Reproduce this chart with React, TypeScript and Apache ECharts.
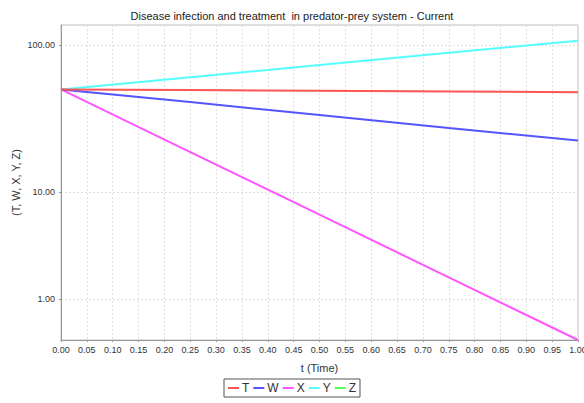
import React, { useEffect, useRef } from "react";
import * as echarts from "echarts";

const chartTitle = "Disease infection and treatment  in predator-prey system - Current";
const times = [0, 0.25, 0.5, 0.75, 1];
const seriesNames = ["T", "W", "X", "Y", "Z"];
const valuesT = [50, 49.5, 48.9, 48.4, 47.9];
const valuesW = [50, 41.0, 33.5, 27.4, 22.5];
const valuesX = [50, 18.8, 7.07, 2.66, 1.0];
const valuesY = [50, 60.4, 73.1, 88.5, 107];
const valuesZ = [50, 49.5, 48.9, 48.4, 47.9];
const colors = ["#ff5555", "#5555ff", "#ff55ff", "#55ffff", "#55ff55"];
const yTickValues = [1, 10, 100];

// JFreeChart places small log ticks at an "adjusted" value
const tickPos = (v: number) => (v < 10 ? v + (10 - v) / 10 : v);

const FONT = "'Liberation Sans', Arial, sans-serif";

export default function App() {
  const ref = useRef<HTMLDivElement>(null);
  useEffect(() => {
    document.body.style.margin = "0";
    if (!ref.current) return;
    const chart = echarts.init(ref.current, undefined, { renderer: "svg" });
    const all = [valuesT, valuesW, valuesX, valuesY, valuesZ];
    const series = seriesNames
      .map((name, i) => ({
        name,
        type: "line",
        showSymbol: false,
        symbol: "none",
        data: times.map((t, j) => [t, all[i][j]]),
        lineStyle: { color: colors[i], width: name === "Z" ? 1 : 2 },
        itemStyle: { color: colors[i] },
        z: 10 - i,
      }))
      .reverse();
    const ySplit = yTickValues.map(tickPos);
    chart.setOption({
      animation: false,
      backgroundColor: "#ffffff",
      textStyle: { fontFamily: FONT },
      title: {
        text: chartTitle,
        left: "center",
        top: 5,
        textStyle: { fontSize: 11, fontWeight: "normal", color: "#222", fontFamily: FONT },
      },
      grid: {
        left: 61,
        right: 6,
        top: 25,
        bottom: 63,
        show: true,
        borderColor: "#c0c0c0",
        borderWidth: 1,
        outerBoundsMode: "none",
        containLabel: false,
      },
      legend: {
        data: seriesNames,
        left: "center",
        top: 379,
        orient: "horizontal",
        borderColor: "#555",
        borderWidth: 1,
        padding: [3, 4, 3, 4],
        itemGap: 4,
        itemWidth: 11,
        itemHeight: 2,
        icon: "rect",
        textStyle: { fontSize: 12, color: "#333", fontFamily: FONT, padding: [0, 0, 0, -2] },
      },
      xAxis: {
        type: "value",
        min: 0,
        max: 1,
        interval: 0.05,
        name: "t (Time)",
        nameLocation: "middle",
        nameGap: 22,
        nameMoveOverlap: false,
        nameTextStyle: { fontSize: 11, color: "#333", fontFamily: FONT },
        axisLine: { lineStyle: { color: "#999" } },
        axisTick: { show: true, length: 2, lineStyle: { color: "#999" } },
        axisLabel: {
          fontSize: 9,
          color: "#333",
          margin: 5,
          fontFamily: FONT,
          formatter: (v: number) => v.toFixed(2),
        },
        splitLine: { show: true, lineStyle: { color: "#e0e0e0", type: [2, 2] } },
      },
      yAxis: {
        type: "log",
        logBase: 10,
        min: 1,
        max: 136.6,
        name: "(T, W, X, Y, Z)",
        nameLocation: "middle",
        nameGap: 40,
        nameMoveOverlap: false,
        nameTextStyle: { fontSize: 11, color: "#333", fontFamily: FONT },
        axisLine: { show: true, lineStyle: { color: "#999" } },
        axisTick: { show: true, length: 2, customValues: ySplit, lineStyle: { color: "#999" } },
        axisLabel: {
          fontSize: 9,
          color: "#333",
          margin: 6,
          fontFamily: FONT,
          customValues: ySplit,
          formatter: (v: number) => {
            const t = yTickValues.find((tv) => Math.abs(tickPos(tv) - v) < 1e-6 * Math.max(1, v));
            return (t !== undefined ? t : v).toFixed(2);
          },
        },
        splitLine: { show: true, lineStyle: { color: "#e0e0e0", type: [2, 2] } },
      },
      series,
    });
    return () => chart.dispose();
  }, []);
  return <div ref={ref} style={{ width: 584, height: 403 }} />;
}
